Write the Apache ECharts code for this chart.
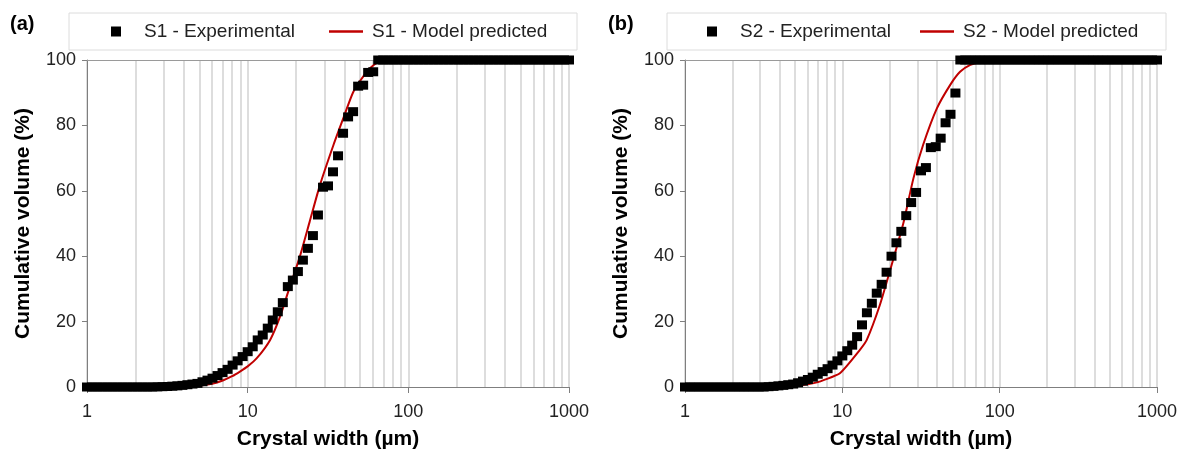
<!DOCTYPE html>
<html>
<head>
<meta charset="utf-8">
<script src="https://cdn.jsdelivr.net/npm/echarts@6/dist/echarts.min.js"></script>
<style>
html,body{margin:0;padding:0;background:#fff;}
#chart{width:1179px;height:450px;}
</style>
</head>
<body>
<div id="chart"></div>
<script>
// size bins (µm) of the measured distributions, 32 per decade
const sizes = [1, 1.075, 1.155, 1.241, 1.334, 1.433, 1.540, 1.655, 1.778, 1.911, 2.054, 2.207, 2.371, 2.548, 2.738, 2.943,
  3.162, 3.398, 3.652, 3.924, 4.217, 4.532, 4.870, 5.233, 5.623, 6.043, 6.494, 6.978, 7.499, 8.058, 8.660, 9.306,
  10, 10.75, 11.55, 12.41, 13.34, 14.33, 15.40, 16.55, 17.78, 19.11, 20.54, 22.07, 23.71, 25.48, 27.38, 29.43,
  31.62, 33.98, 36.52, 39.24, 42.17, 45.32, 48.70, 52.33, 56.23, 60.43, 64.94, 69.78, 74.99, 80.58, 86.60, 93.06,
  100, 107.5, 115.5, 124.1, 133.4, 143.3, 154.0, 165.5, 177.8, 191.1, 205.4, 220.7, 237.1, 254.8, 273.8, 294.3,
  316.2, 339.8, 365.2, 392.4, 421.7, 453.2, 487.0, 523.3, 562.3, 604.3, 649.4, 697.8, 749.9, 805.8, 866.0, 930.6, 1000];

// cumulative volume (%) at each bin
const s1Exp = [0, 0, 0, 0, 0, 0, 0, 0, 0, 0, 0, 0, 0, 0, 0.05, 0.1, 0.15, 0.25, 0.35, 0.5, 0.7,
  0.9, 1.1, 1.6, 2.1, 2.7, 3.5, 4.4, 5.4, 6.7, 8.0, 9.3, 10.8, 12.3, 14.4, 15.9, 18.0, 20.5, 23.0, 25.8,
  30.7, 32.7, 35.3, 38.8, 42.4, 46.3, 52.6, 61.1, 61.5, 65.8, 70.7, 77.6, 82.6, 84.2, 92.0, 92.3, 96.2, 96.4,
  100, 100, 100, 100, 100, 100, 100, 100, 100, 100, 100, 100, 100, 100, 100, 100, 100, 100, 100, 100, 100,
  100, 100, 100, 100, 100, 100, 100, 100, 100, 100, 100, 100, 100, 100, 100, 100, 100, 100];
const s2Exp = [0, 0, 0, 0, 0, 0, 0, 0, 0, 0, 0, 0, 0, 0, 0, 0, 0, 0.1, 0.2, 0.35, 0.5, 0.7,
  0.9, 1.3, 1.8, 2.3, 3.0, 3.9, 4.7, 5.6, 6.7, 8.0, 9.5, 11.1, 12.8, 15.4, 19.0, 22.7, 25.6, 28.7, 31.4, 35.1,
  40.0, 44.1, 47.6, 52.4, 56.4, 59.5, 66.1, 67.1, 73.2, 73.5, 76.1, 80.8, 83.4, 89.9,
  100, 100, 100, 100, 100, 100, 100, 100, 100, 100, 100, 100, 100, 100, 100, 100, 100, 100, 100, 100,
  100, 100, 100, 100, 100, 100, 100, 100, 100, 100, 100, 100, 100, 100, 100, 100, 100, 100, 100, 100, 100];

// model curves
const s1ModelX = [1, 3, 4, 5, 6, 7, 8, 9, 10, 11.4, 13.8, 15.9, 18.3, 21.1, 24.3, 28.2, 34.2, 39.4, 45.5, 55, 63, 75, 1000];
const s1ModelY = [0, 0, 0.1, 0.4, 1.0, 2.0, 3.3, 4.8, 6.3, 8.8, 14.4, 21.5, 30.7, 39.8, 50.5, 61.8, 74, 82.2, 90.3, 96.4, 99, 100, 100];
const s2ModelX = [1, 3, 4, 5, 6, 7, 7.6, 9.65, 12.9, 14.3, 17.3, 20.2, 24.4, 28.3, 32.6, 39.9, 48.5, 56, 65, 75, 90, 1000];
const s2ModelY = [0, 0, 0.1, 0.3, 0.8, 1.5, 2.1, 4.2, 11.3, 14.4, 25, 36, 50, 63.8, 74, 85.2, 92.4, 96.4, 98.5, 99.4, 100, 100];

// light vertical lines between decades
const minorGrid = [2, 3, 4, 5, 6, 7, 8, 9, 20, 30, 40, 50, 60, 70, 80, 90, 200, 300, 400, 500, 600, 700, 800, 900];

const FONT = "'Liberation Sans', Arial, sans-serif";
const pairs = (xs, ys) => xs.map((x, i) => [x, ys[i]]);

const chart = echarts.init(document.getElementById('chart'));

const xAxisBase = {
  type: 'log', logBase: 10, min: 1, max: 1000,
  name: 'Crystal width (µm)', nameLocation: 'middle', nameGap: 42,
  nameTextStyle: { fontFamily: FONT, fontSize: 21, fontWeight: 'bold', color: '#000' },
  axisLine: { lineStyle: { color: '#7f7f7f', width: 1 } },
  axisTick: { length: 6, lineStyle: { color: '#7f7f7f' } },
  axisLabel: { fontFamily: FONT, fontSize: 18, color: '#222', margin: 16, formatter: v => String(v) },
  splitLine: { show: true, lineStyle: { color: '#d2d2d2', width: 1.5 } },
  minorTick: { show: false }
};
const yAxisBase = {
  type: 'value', min: 0, max: 100, interval: 20,
  name: 'Cumulative volume (%)', nameLocation: 'middle', nameGap: 53,
  nameTextStyle: { fontFamily: FONT, fontSize: 21, fontWeight: 'bold', color: '#000' },
  axisLine: { show: true, lineStyle: { color: '#7f7f7f', width: 1 } },
  axisTick: { show: true, length: 5, lineStyle: { color: '#7f7f7f' } },
  axisLabel: { fontFamily: FONT, fontSize: 18, color: '#222', margin: 11 },
  splitLine: { show: false }
};

function helper(idx) {
  return {
    type: 'line', xAxisIndex: idx, yAxisIndex: idx, data: [], silent: true, z: 1,
    markLine: {
      z: 1, silent: true, symbol: 'none', label: { show: false }, animation: false,
      lineStyle: { color: '#d2d2d2', width: 1.5, type: 'solid' },
      data: minorGrid.map(v => ({ xAxis: v })).concat([{ yAxis: 100, lineStyle: { color: '#9a9a9a', width: 1 } }])
    }
  };
}
function model(idx, name, xs, ys) {
  return {
    type: 'line', name: name, xAxisIndex: idx, yAxisIndex: idx, z: 3,
    data: pairs(xs, ys), showSymbol: false, smooth: 0.2,
    color: '#c00000', lineStyle: { color: '#c00000', width: 2 }
  };
}
function exp(idx, name, ys) {
  return {
    type: 'scatter', name: name, xAxisIndex: idx, yAxisIndex: idx, z: 4,
    data: pairs(sizes, ys), symbol: 'rect', symbolSize: [10, 9],
    itemStyle: { color: '#000', opacity: 1 }
  };
}
function legendItem(left, name, icon, w, gap) {
  return {
    left: left, top: 22, padding: 0, itemWidth: w, itemHeight: 10, selectedMode: false,
    data: [{ name: name, icon: icon, itemStyle: { opacity: 1 } }],
    textStyle: { fontFamily: FONT, fontSize: 19, color: '#222', padding: [0, 0, 0, gap] }
  };
}
const sq = 'path://M0,0H10V10H0Z';
const ln = 'path://M0,0H34V2.6H0Z';

chart.setOption({
  animation: false,
  backgroundColor: '#fff',
  grid: [
    { left: 87, right: 610, top: 60, bottom: 63, outerBoundsMode: 'none' },
    { left: 685, right: 22, top: 60, bottom: 63, outerBoundsMode: 'none' }
  ],
  xAxis: [Object.assign({ gridIndex: 0 }, xAxisBase), Object.assign({ gridIndex: 1 }, xAxisBase)],
  yAxis: [Object.assign({ gridIndex: 0 }, yAxisBase), Object.assign({ gridIndex: 1 }, yAxisBase)],
  legend: [
    legendItem(111, 'S1 - Experimental', sq, 10, 18),
    legendItem(329, 'S1 - Model predicted', ln, 34, 4),
    legendItem(707, 'S2 - Experimental', sq, 10, 18),
    legendItem(920, 'S2 - Model predicted', ln, 34, 4)
  ],
  graphic: [
    { type: 'rect', shape: { x: 69, y: 13, width: 508, height: 37 }, style: { fill: 'none', stroke: '#dcdcdc', lineWidth: 1 }, silent: true },
    { type: 'rect', shape: { x: 667, y: 13, width: 499, height: 37 }, style: { fill: 'none', stroke: '#dcdcdc', lineWidth: 1 }, silent: true },
    { type: 'text', left: 10, top: 14, style: { text: '(a)', fontFamily: FONT, fontSize: 20, fontWeight: 'bold', fill: '#000' } },
    { type: 'text', left: 608, top: 14, style: { text: '(b)', fontFamily: FONT, fontSize: 20, fontWeight: 'bold', fill: '#000' } }
  ],
  series: [
    helper(0), helper(1),
    model(0, 'S1 - Model predicted', s1ModelX, s1ModelY),
    exp(0, 'S1 - Experimental', s1Exp),
    model(1, 'S2 - Model predicted', s2ModelX, s2ModelY),
    exp(1, 'S2 - Experimental', s2Exp)
  ]
});
</script>
</body>
</html>
